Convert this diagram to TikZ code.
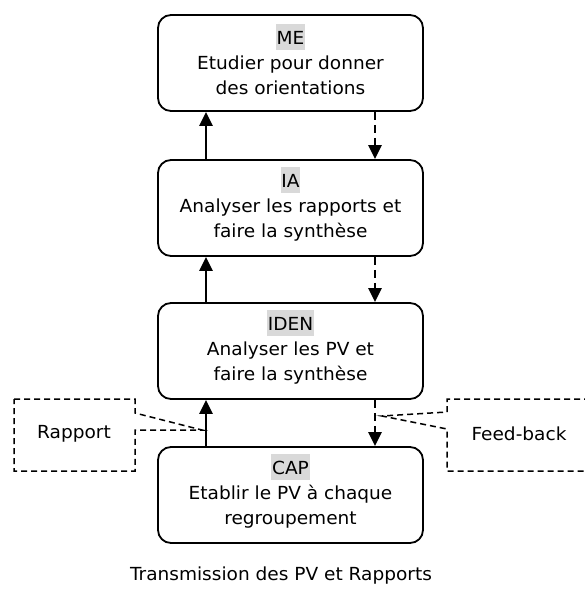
\documentclass[tikz,border=0pt]{standalone}
\usepackage{fontspec}
\setmainfont{DejaVu Sans}[FakeStretch=1.03]
\usetikzlibrary{arrows.meta}
\definecolor{tagbg}{gray}{0.85}
% grey highlight behind a level name, kept out of the line height
\newcommand{\tagname}[1]{{\setlength{\fboxsep}{0.6pt}%
  \smash{\colorbox{tagbg}{\rule[-4.6pt]{0pt}{24.6pt}#1}}\rule{0pt}{13pt}}}
\tikzset{
  level/.style={draw, line width=1.8pt, rounded corners=13pt,
    minimum width=265pt, minimum height=96pt, align=center,
    font=\fontsize{18}{25}\selectfont},
  upflow/.style={line width=2.6pt, -{Triangle[length=14pt,width=13pt]}},
  downflow/.style={line width=2.6pt, dash pattern=on 8pt off 5pt,
    -{Triangle[length=14pt,width=13pt]}},
  callout/.style={line width=1.5pt, dash pattern=on 6pt off 4pt},
  lbl/.style={font=\fontsize{18}{22}\selectfont}
}
\begin{document}
\begin{tikzpicture}[x=1pt,y=-1pt]
\useasboundingbox (0,0) rectangle (585,592);
\clip (0,0) rectangle (585,592);

% hierarchy levels
\node[level] (me)   at (290.5,63)  {\tagname{ME}\\Etudier pour donner\\des orientations};
\node[level] (ia)   at (290.5,208) {\tagname{IA}\\Analyser les rapports et\\faire la synthèse};
\node[level] (iden) at (290.5,351) {\tagname{IDEN}\\Analyser les PV et\\faire la synthèse};
\node[level] (cap)  at (290.5,495) {\tagname{CAP}\\Etablir le PV à chaque\\regroupement};

% columns of the upward and downward flows
\coordinate (upx) at (206,0);
\coordinate (dnx) at (375,0);

\draw[upflow] (ia.north -| upx)   -- (me.south -| upx);
\draw[upflow] (iden.north -| upx) -- (ia.south -| upx);
\draw[upflow] (cap.north -| upx)  -- (iden.south -| upx);

\draw[downflow] (me.south -| dnx)   -- (ia.north -| dnx);
\draw[downflow] (ia.south -| dnx)   -- (iden.north -| dnx);
\draw[downflow] (iden.south -| dnx) -- (cap.north -| dnx);

% callouts
\coordinate (rtip) at (202,430);
\coordinate (ftip) at (382,416);
\draw[callout] (14,399) -- (135,399) -- (135,413) -- (rtip) -- (135,430)
  -- (135,471) -- (14,471) -- cycle;
\node[lbl] (rapport) at (74,434) {Rapport};
\draw[callout] (600,399) -- (447,399) -- (447,412) -- (ftip) -- (447,429)
  -- (447,471) -- (600,471);
\node[lbl] (feedback) at (519,434) {Feed-back};

\node[lbl] (title) at (281,576) {Transmission des PV et Rapports};
\end{tikzpicture}
\end{document}
